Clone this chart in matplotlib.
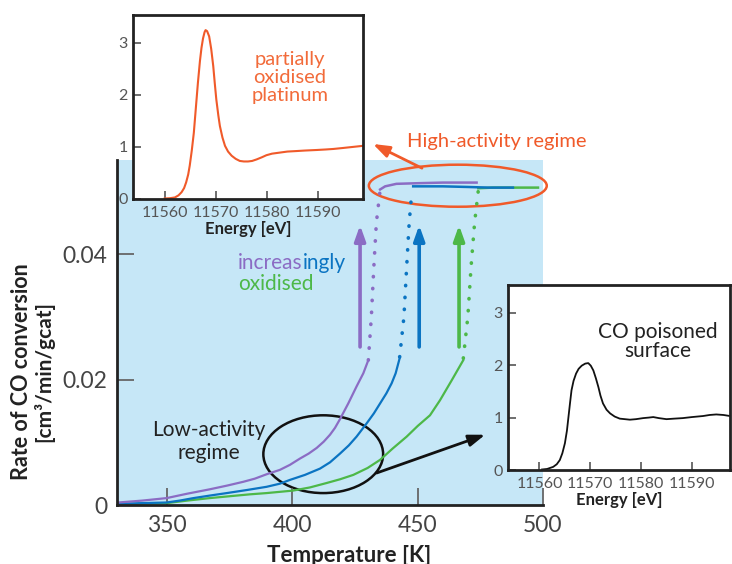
import numpy as np
import matplotlib
matplotlib.use('Agg')
import matplotlib.pyplot as plt
from matplotlib.patches import Ellipse

plt.rcParams['font.family'] = ['Lato', 'DejaVu Sans']

# colours
purple = '#8b6cc4'
blue = '#0b74c2'
green = '#4db848'
red = '#f05a2a'
bgBlue = '#c6e7f7'
tickGrey = '#444444'

# rate of CO conversion vs temperature, low-activity branch
purpleT = [330.5, 340, 349.8, 358, 367, 374, 380.4, 385, 389.7, 395, 399, 403, 406.5, 409.7, 412.5,
           415, 417, 419, 422.3, 425.6, 428.3, 430.3]
purpleR = [0.0004, 0.0007, 0.0011, 0.0018, 0.0025, 0.0031, 0.0037, 0.0042, 0.0049, 0.0056, 0.0064,
           0.0074, 0.0082, 0.0091, 0.0101, 0.0112, 0.0123, 0.0137, 0.0162, 0.0189, 0.0210, 0.0231]
blueT = [330.5, 340, 349.8, 355, 360.5, 367, 373.8, 382, 389.7, 395, 399, 405, 411, 415, 419, 422.5,
         425.6, 429.6, 432.5, 435, 437.5, 439.6, 441.2, 442.8]
blueR = [0.0002, 0.0003, 0.0004, 0.0007, 0.0011, 0.0015, 0.0019, 0.0024, 0.0029, 0.0034, 0.0040,
         0.0048, 0.0058, 0.0068, 0.0082, 0.0095, 0.0109, 0.0130, 0.0146, 0.0162, 0.0178, 0.0194,
         0.0210, 0.0234]
greenT = [330.5, 340, 349.8, 358, 367, 375, 383, 389.7, 395, 400.3, 407, 413.6, 419, 424.3, 430, 435,
          440, 445.6, 450, 454.9, 458.9, 463.6, 468.2]
greenR = [0.0001, 0.0002, 0.0003, 0.0007, 0.0011, 0.0014, 0.0017, 0.0019, 0.0021, 0.0023, 0.0028,
          0.0035, 0.0041, 0.0048, 0.0059, 0.0072, 0.0090, 0.0109, 0.0126, 0.0143, 0.0167, 0.0199,
          0.0231]

# jump to the high-activity branch (dotted)
purpleJumpT = [430.3, 431.5, 432.5, 433.5, 435.0]
purpleJumpR = [0.0231, 0.0300, 0.0380, 0.0450, 0.0502]
blueJumpT = [442.8, 444.5, 445.6, 446.6, 447.6]
blueJumpR = [0.0236, 0.0300, 0.0380, 0.0450, 0.0497]
greenJumpT = [468.2, 470.0, 471.3, 472.7, 474.2]
greenJumpR = [0.0234, 0.0300, 0.0380, 0.0450, 0.0502]

# high-activity branch
purpleHighT = [435.0, 437.0, 441.5, 450, 460, 473.5]
purpleHighR = [0.0503, 0.0508, 0.0512, 0.0513, 0.0514, 0.0514]
blueHighT = [448.2, 460, 470, 478, 488]
blueHighR = [0.0508, 0.0508, 0.0507, 0.0506, 0.0506]
greenHighT = [474.2, 480, 490, 498]
greenHighR = [0.0505, 0.0506, 0.0506, 0.0506]

# XANES spectra
energyOx = [11560, 11561, 11562, 11562.7, 11563.3, 11563.8, 11564.2, 11564.6, 11564.9, 11565.3,
            11565.7, 11566.1, 11566.5, 11566.9, 11567.2, 11567.5, 11567.8, 11568.0, 11568.3, 11568.7,
            11569.1, 11569.5, 11569.8, 11570.1, 11570.5, 11570.8, 11571.3, 11571.8, 11572.4, 11573.1,
            11573.9, 11574.7, 11575.5, 11576.3, 11577.1, 11578.0, 11579.0, 11579.9, 11581.0, 11582.5,
            11584.0, 11585.8, 11587.5, 11589.7, 11591.5, 11593.0, 11595.0, 11596.9, 11598.8]
muOx = [0.01, 0.015, 0.03, 0.07, 0.13, 0.21, 0.32, 0.47, 0.64, 0.93,
        1.27, 1.75, 2.23, 2.65, 2.90, 3.08, 3.20, 3.24, 3.22, 3.12,
        2.88, 2.55, 2.22, 1.91, 1.60, 1.40, 1.18, 1.02, 0.91, 0.83,
        0.77, 0.73, 0.72, 0.72, 0.73, 0.76, 0.80, 0.84, 0.87, 0.89,
        0.91, 0.92, 0.93, 0.94, 0.95, 0.96, 0.98, 1.00, 1.02]
energyCO = [11560.5, 11561.5, 11562.7, 11563.4, 11564.0, 11564.5, 11565.0, 11565.4, 11565.7, 11566.0,
            11566.3, 11566.7, 11567.2, 11567.7, 11568.3, 11569.0, 11569.6, 11570.1, 11570.6, 11571.1,
            11571.6, 11572.0, 11572.5, 11573.2, 11573.9, 11574.8, 11575.8, 11576.8, 11577.8, 11579.0,
            11580.4, 11581.5, 11582.4, 11583.5, 11585.0, 11586.5, 11588.2, 11590.0, 11592.2, 11593.5,
            11594.8, 11596.2, 11597.5]
muCO = [0.01, 0.02, 0.06, 0.11, 0.19, 0.32, 0.51, 0.75, 1.01, 1.27,
        1.52, 1.70, 1.84, 1.93, 1.99, 2.03, 2.04, 1.99, 1.90, 1.75,
        1.58, 1.42, 1.27, 1.15, 1.08, 1.02, 0.98, 0.97, 0.96, 0.97,
        0.99, 1.00, 1.01, 0.99, 0.97, 0.98, 0.99, 1.01, 1.03, 1.05,
        1.06, 1.05, 1.03]

tempTicks = [350, 400, 450, 500]
rateTicks = [0, 0.02, 0.04]
rateTickLabels = ['0', '0.02', '0.04']
energyTicks = [11560, 11570, 11580, 11590]
muTicks = [0, 1, 2, 3]

W, H = 732, 564
fig = plt.figure(figsize=(W / 100, H / 100), dpi=100)


def pxAxes(left, top, right, bottom):
    return fig.add_axes([left / W, 1 - bottom / H, (right - left) / W, (bottom - top) / H])


arrowStyle = '-|>,head_length=0.7,head_width=0.25'

# main plot
ax = pxAxes(117, 160, 543, 505)
ax.set_facecolor(bgBlue)
ax.set_xlim(330, 500)
ax.set_ylim(0, 0.055)
for side in ['top', 'right']:
    ax.spines[side].set_visible(False)
for side in ['left', 'bottom']:
    ax.spines[side].set_linewidth(2)
    ax.spines[side].set_color('#222222')
ax.set_xticks(tempTicks)
ax.set_yticks(rateTicks)
ax.set_yticklabels(rateTickLabels)
ax.tick_params(direction='in', length=12, width=1.3, color='#666666', labelsize=16.5,
               labelcolor=tickGrey, pad=7)

dots = (0, (0.1, 3.2))
for T, R, jT, jR, hT, hR, c in [
        (greenT, greenR, greenJumpT, greenJumpR, greenHighT, greenHighR, green),
        (blueT, blueR, blueJumpT, blueJumpR, blueHighT, blueHighR, blue),
        (purpleT, purpleR, purpleJumpT, purpleJumpR, purpleHighT, purpleHighR, purple)]:
    ax.plot(T, R, color=c, lw=1.6)
    ax.plot(jT, jR, color=c, lw=2.6, linestyle=dots, dash_capstyle='round')
    ax.plot(hT, hR, color=c, lw=1.8)

# "increasingly oxidised" arrows
for x, c in [(427, purple), (450.6, blue), (466.5, green)]:
    ax.annotate('', xy=(x, 0.0446), xytext=(x, 0.0252),
                arrowprops=dict(arrowstyle=arrowStyle, color=c, lw=2.6, mutation_scale=13,
                                shrinkA=0, shrinkB=0))

t1 = ax.text(378.3, 0.0386, 'increas', color=purple, fontsize=15, va='center', ha='left')
ax.annotate('ingly', xy=(1, 0), xycoords=t1, va='bottom', ha='left', color=blue, fontsize=15)
ax.text(378.3, 0.0352, 'oxidised', color=green, fontsize=15, va='center', ha='left')

# low-activity regime
ax.add_patch(Ellipse((412.3, 0.0081), 47.8, 0.0124, fill=False, ec='#111111', lw=1.8))
ax.text(366.5, 0.0101, 'Low-activity\nregime', ha='center', va='center', fontsize=15,
        color='#222222', linespacing=1.15)
ax.annotate('', xy=(476.9, 0.0112), xytext=(433.6, 0.0051),
            arrowprops=dict(arrowstyle=arrowStyle, color='#111111', lw=2, mutation_scale=14,
                            shrinkA=0, shrinkB=0))

# high-activity regime
ax.add_patch(Ellipse((466, 0.0509), 71, 0.0067, fill=False, ec=red, lw=1.8, clip_on=False))
ax.annotate('', xy=(373 / W, 1 - 144 / H), xycoords='figure fraction',
            xytext=(451.7, 0.0537), textcoords='data',
            arrowprops=dict(arrowstyle=arrowStyle, color=red, lw=2, mutation_scale=14,
                            shrinkA=0, shrinkB=0))
fig.text(407 / W, 1 - 142 / H, 'High-activity regime', color=red, fontsize=14.5,
         ha='left', va='center')

fig.text(349 / W, 1 - 555 / H, 'Temperature [K]', fontsize=16, fontweight='bold',
         ha='center', va='center', color='#222222')
fig.text(22 / W, 1 - 372 / H, 'Rate of CO conversion', fontsize=15.5, fontweight='bold',
         rotation=90, ha='center', va='center', color='#222222')
fig.text(44 / W, 1 - 372 / H, '[cm\u00b3/min/gcat]', fontsize=15, fontweight='bold',
         rotation=90, ha='center', va='center', color='#222222')


def setupInset(axIn, xmax):
    axIn.set_facecolor('white')
    axIn.set_xlim(11553.8, xmax)
    axIn.set_ylim(0, 3.53)
    for side in axIn.spines:
        axIn.spines[side].set_linewidth(2)
        axIn.spines[side].set_color('#222222')
    axIn.set_xticks(energyTicks)
    axIn.set_yticks(muTicks)
    axIn.tick_params(direction='in', length=6, width=1.2, color='#555555', labelsize=11.5,
                     labelcolor='#555555', top=False, right=False)
    axIn.tick_params(axis='x', pad=5)
    axIn.tick_params(axis='y', pad=4)
    axIn.set_xlabel('Energy [eV]', fontsize=12, fontweight='bold', color='#222222', labelpad=1)


# partially oxidised platinum spectrum
ax1 = pxAxes(133, 15, 363, 199)
setupInset(ax1, 11598.8)
ax1.plot(energyOx, muOx, color=red, lw=1.5)
ax1.text(11584.5, 2.33, 'partially\noxidised\nplatinum', color='#f26b3a', fontsize=14.5,
         ha='center', va='center', linespacing=1.1)

# CO poisoned surface spectrum
ax2 = pxAxes(508, 285, 730, 470)
setupInset(ax2, 11597.5)
ax2.plot(energyCO, muCO, color='#111111', lw=1.3)
ax2.text(11583.3, 2.45, 'CO poisoned\nsurface', color='#222222', fontsize=15,
         ha='center', va='center', linespacing=0.95)

fig.savefig('out.png', dpi=100)
